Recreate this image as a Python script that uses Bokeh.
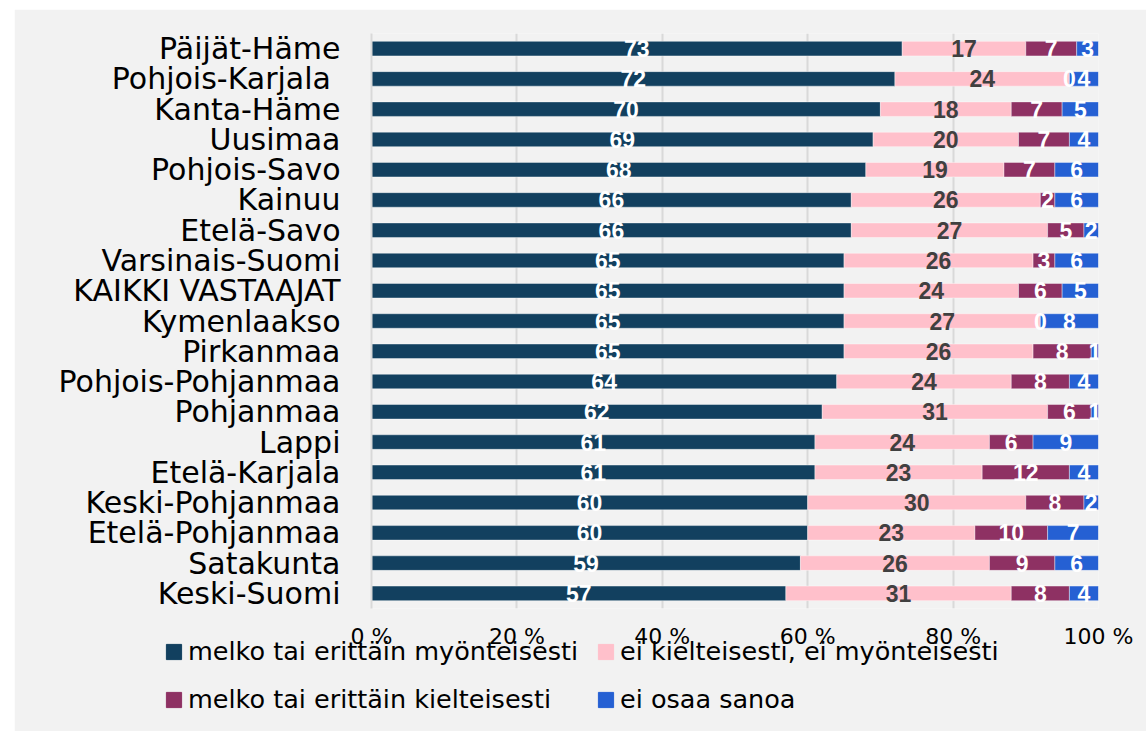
from bokeh.plotting import figure
from bokeh.models import ColumnDataSource, FactorRange, Range1d, FixedTicker, Legend, LegendItem, Spacer
from bokeh.layouts import row, column
from bokeh.core.properties import value
from bokeh.embed import file_html
from bokeh.resources import INLINE

regions = ["Päijät-Häme", "Pohjois-Karjala ", "Kanta-Häme", "Uusimaa", "Pohjois-Savo",
           "Kainuu", "Etelä-Savo", "Varsinais-Suomi", "KAIKKI VASTAAJAT", "Kymenlaakso",
           "Pirkanmaa", "Pohjois-Pohjanmaa", "Pohjanmaa", "Lappi", "Etelä-Karjala",
           "Keski-Pohjanmaa", "Etelä-Pohjanmaa", "Satakunta", "Keski-Suomi"]
positive = [73, 72, 70, 69, 68, 66, 66, 65, 65, 65, 65, 64, 62, 61, 61, 60, 60, 59, 57]
neutral = [17, 24, 18, 20, 19, 26, 27, 26, 24, 27, 26, 24, 31, 24, 23, 30, 23, 26, 31]
negative = [7, 0, 7, 7, 7, 2, 5, 3, 6, 0, 8, 8, 6, 6, 12, 8, 10, 9, 8]
dont_know = [3, 4, 5, 4, 6, 6, 2, 6, 5, 8, 1, 4, 1, 9, 4, 2, 7, 6, 4]
series_names = ["melko tai erittäin myönteisesti", "ei kielteisesti, ei myönteisesti",
                "melko tai erittäin kielteisesti", "ei osaa sanoa"]
colors = ["#12405f", "#ffc0cb", "#8e3163", "#2560d3"]
label_colors = ["#ffffff", "#404040", "#ffffff", "#ffffff"]
tick_values = [0, 20, 40, 60, 80, 100]
tick_labels = ["0 %", "20 %", "40 %", "60 %", "80 %", "100 %"]

keys = ["positive", "neutral", "negative", "dont_know"]
series = [positive, neutral, negative, dont_know]
source = ColumnDataSource(dict(region=regions, positive=positive, neutral=neutral,
                               negative=negative, dont_know=dont_know))

FONT = "DejaVu Sans"
BG = "#f2f2f2"

p = figure(width=1132, height=722, output_backend="svg", toolbar_location=None,
           y_range=FactorRange(factors=list(reversed(regions))),
           x_range=Range1d(0, 100),
           background_fill_color=BG, border_fill_color=BG,
           min_border_left=357, min_border_right=48, min_border_top=24, min_border_bottom=123)
p.outline_line_color = None

renderers = p.hbar_stack(keys, y="region", height=0.48, color=colors, source=source,
                         line_color="white", line_alpha=0.4, line_width=1)

# value labels
xs, ys, texts, tcols = [], [], [], []
for i, region in enumerate(regions):
    cum = 0
    for s, vals in enumerate(series):
        v = vals[i]
        xs.append(cum + v / 2)
        ys.append(region)
        texts.append(str(v))
        tcols.append(label_colors[s])
        cum += v
lab_src = ColumnDataSource(dict(x=xs, y=ys, text=texts, color=tcols))
p.text(x="x", y="y", text="text", source=lab_src, text_color="color",
       text_align="center", text_baseline="middle",
       text_font=value("Liberation Sans"), text_font_style="bold", text_font_size="23px")

# axes
p.xaxis.ticker = FixedTicker(ticks=tick_values)
p.xaxis.major_label_overrides = {v: l for v, l in zip(tick_values, tick_labels)}
p.xaxis.axis_line_color = None
p.xaxis.major_tick_line_color = None
p.xaxis.minor_tick_line_color = None
p.xaxis.major_tick_out = 0
p.xaxis.major_tick_in = 0
p.xaxis.major_label_standoff = 15
p.xaxis.major_label_text_font = FONT
p.xaxis.major_label_text_font_size = "22px"
p.xaxis.major_label_text_color = "#000000"

p.yaxis.axis_line_color = "#d9d9d9"
p.yaxis.axis_line_width = 2
p.yaxis.major_tick_line_color = None
p.yaxis.minor_tick_line_color = None
p.yaxis.major_tick_out = 0
p.yaxis.major_tick_in = 0
p.yaxis.major_label_standoff = 31
p.yaxis.major_label_text_font = FONT
p.yaxis.major_label_text_font_size = "30px"
p.yaxis.major_label_text_color = "#000000"

p.ygrid.grid_line_color = None
p.xgrid.grid_line_color = "#d9d9d9"
p.xgrid.grid_line_width = 2

# transparent overlay figure holding the legend (its renderers are hidden)
p2 = figure(width=1132, height=94, output_backend="svg", toolbar_location=None,
            x_axis_type=None, y_axis_type=None,
            x_range=Range1d(0, 100), y_range=FactorRange(factors=list(reversed(regions))),
            background_fill_alpha=0, border_fill_alpha=0, min_border=0)
p2.outline_line_color = None
p2.grid.visible = False
legend_renderers = p2.hbar_stack(keys, y="region", height=0.48, color=colors, source=source)
for r in legend_renderers:
    r.visible = False
legend = Legend(items=[LegendItem(label=n, renderers=[r]) for n, r in zip(series_names, legend_renderers)],
                orientation="horizontal", ncols=2, location=(150, 17),
                label_text_font=FONT, label_text_font_size="25.5px", label_text_color="#000000",
                glyph_width=19, glyph_height=19, label_standoff=5, spacing=18,
                padding=0, margin=0, border_line_alpha=0, background_fill_alpha=0,
                inactive_fill_alpha=0)
p2.add_layout(legend)
p2.styles = {"position": "absolute", "top": "637px", "left": "14px"}

root1 = column(Spacer(height=9), row(Spacer(width=14), p))
open("out.html", "w").write(file_html([root1, p2], INLINE))
